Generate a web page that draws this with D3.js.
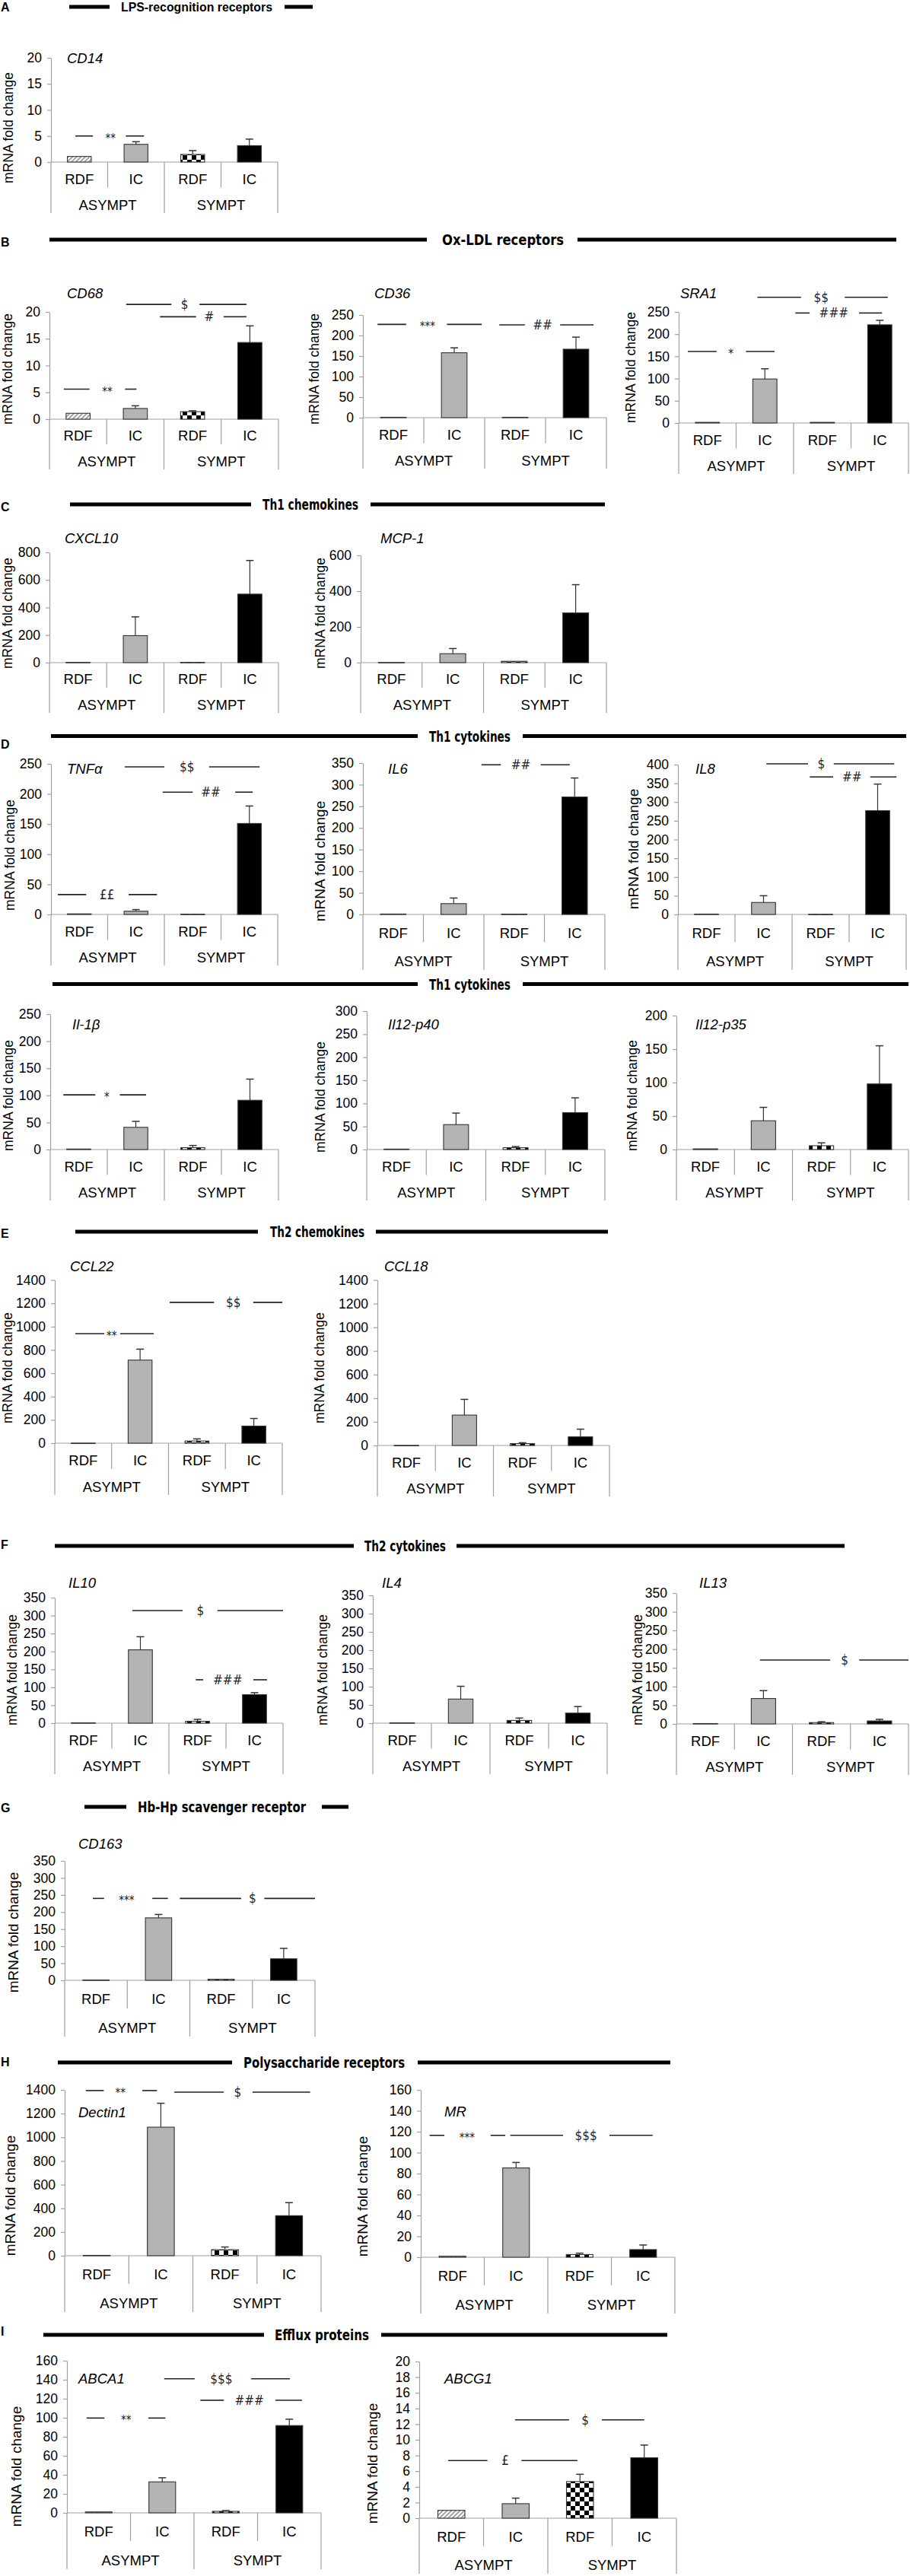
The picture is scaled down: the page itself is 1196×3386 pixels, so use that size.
<!DOCTYPE html>
<html><head><meta charset="utf-8">
<script src="https://cdn.jsdelivr.net/npm/d3@7"></script>
<style>body{margin:0;background:#fff}svg{display:block}</style>
</head><body>
<svg id="c" width="1196" height="3386"></svg>
<script>
// ---------------- DATA ----------------
const genes = ["CD14","CD68","CD36","SRA1","CXCL10","MCP-1","TNFα","IL6","IL8","Il-1β","Il12-p40","Il12-p35",
  "CCL22","CCL18","IL10","IL4","IL13","CD163","Dectin1","MR","ABCA1","ABCG1"];
const conditions = ["RDF","IC","RDF","IC"];
const groups = ["ASYMPT","SYMPT"];
// mean mRNA fold change per bar
const rdfAsympt = [1.07,1.1,1,1.5,2,1,1,1,1,1,1,1,1,1,1,1,1,1,3,1,1,1.0];
const icAsympt  = [3.4,2.0,158,99,196,50,5.4,25,32,41,54,43,713,257,204.5,66,68,183,1085,85.4,32.6,1.85];
const rdfSympt  = [1.46,1.4,1,1.5,2,7.6,0.5,0.8,0.5,3.5,4,5.7,18.6,16,5.3,7.5,3.6,3,50.6,2.6,1.6,4.67];
const icSympt   = [3.15,14.3,166.7,221,497,278,151,271.5,277,91,80,98,147,73,79.5,27.6,8,63,338,7.3,91.8,7.71];
// SEM (upper whisker length)
const semIcAsympt  = [0.5,0.5,12,23,136,29,2.7,13,18,11,25,20,94,133,36.5,35,21,10,202,5.2,4.3,0.71];
const semRdfSympt  = [0.74,0.17,0,0.5,0,2.4,0,0,0,4,2.5,4.3,18.4,7,5.3,6.5,2.2,1,23,1.3,0.8,0.93];
const semIcSympt   = [1.25,3.1,29.3,10,244,158,29,44,71,39,32,57,65,65,5.5,17.9,4.3,30.6,110,4.4,6.7,1.62];
// y-axis tick labels: max and step
const yMax  = [20,20,250,250,800,600,250,350,400,250,300,200,1400,1400,350,350,350,350,1400,160,160,20];
const yStep = [5,5,50,50,200,200,50,50,50,50,50,50,200,200,50,50,50,50,200,20,20,2];
// significance annotations: panel, line1 [a,b], line2 [c,d] and label position in bar-slot units (0..4), value, label
const sigPanel = [0,1,1,1,2,2,3,3,3,6,6,6,7,8,8,9,12,12,14,14,16,17,17,18,18,19,19,20,20,20,21,21];
const sigValue = [5.0,5.6,21.4,19.1,227,226,161,283,247.6,33,245,203,346,402,367,101,940,1208,314,121,171,240,240,1394,1381,116.5,116.5,99.7,141,118.4,7.35,12.55];
const sigLabel = ["**","**","$","#","***","##","*","$$","###","££","$$","##","##","$","##","*","**","$$","$","###","$","***","$","**","$","***","$$$","**","$$$","###","£","$"];
const sigSpan = [
 [0.43,0.74,1.32,1.64,1.05],
 [0.25,0.70,1.32,1.52,1.01],[1.34,2.13,2.62,3.44,2.36],[1.93,2.56,3.04,3.44,2.79],
 [0.24,0.71,1.38,1.95,1.06],[2.24,2.66,3.24,3.79,2.95],
 [0.16,0.66,1.17,1.67,0.91],[1.37,2.13,2.89,3.64,2.48],[2.03,2.28,3.14,3.54,2.70],
 [0.12,0.62,1.37,1.87,0.99],[1.30,2.0,2.79,3.68,2.40],[1.97,2.50,3.25,3.56,2.82],
 [1.96,2.28,2.94,3.42,2.61],
 [1.55,2.28,2.73,3.79,2.51],[2.31,2.72,3.37,3.83,3.05],
 [0.23,0.79,1.22,1.68,0.99],
 [0.36,0.87,1.15,1.74,1.0],[2.02,2.80,3.49,4.0,3.14],
 [1.36,2.24,2.85,4.0,2.55],[2.47,2.60,3.48,3.72,3.03],
 [1.44,2.65,3.15,4.0,2.90],
 [0.45,0.63,1.40,1.65,0.99],[1.84,2.82,3.19,4.0,3.0],
 [0.33,0.61,1.21,1.44,0.87],[1.71,2.48,2.93,3.83,2.70],
 [0.14,0.37,1.10,1.33,0.73],[1.41,2.24,2.97,3.65,2.60],
 [0.31,0.59,1.28,1.55,0.93],[1.53,2.01,2.90,3.51,2.43],[2.10,2.47,3.28,3.70,2.87],
 [0.45,1.06,1.59,2.46,1.34],[1.49,2.33,2.84,3.50,2.58]
];
const sectionLetters = ["A","B","C","D","","E","F","G","H","I"];
const sectionTitles = ["LPS-recognition receptors","Ox-LDL receptors","Th1 chemokines","Th1 cytokines","Th1 cytokines",
  "Th2 chemokines","Th2 cytokines","Hb-Hp scavenger receptor","Polysaccharide receptors","Efflux proteins"];

// ---------------- LAYOUT ----------------
// x0,x1,yTop,y0,catH,labelX,labelY,titleX,titleY
const layout = [
 [67,365,76,213,67,11,168,88,76],
 [65,366,410,551,66,10,485,88,385],
 [477,797,414,549,67,413,485,492,385],
 [892,1194,410,556,67,829,483,894,385],
 [65,366,726,871,66,10,806,85,707],
 [474,797,730,871,66,421,806,500,707],
 [67,365,1004,1202,67,13,1124,88,1010],
 [477,795,1003,1202,73,420,1132,510,1010],
 [891,1191,1005,1202,73,832,1116,914,1010],
 [66,366,1333,1511,67,11,1440,95,1346],
 [482,795,1329,1511,67,421,1442,510,1346],
 [889,1194,1335,1511,67,831,1440,914,1346],
 [72,371,1682.5,1897,68,10,1798,92,1664],
 [496,801,1682.5,1900,67,420,1798,505,1664],
 [72,372,2100,2265,67,16,2195,90,2080],
 [490,798,2097,2265,67,424,2195,502,2080],
 [889,1194,2094,2266,67,838,2195,919,2080],
 [85,414,2446,2603,74,17,2540,103,2423],
 [85,422,2747,2965,74,13,2886,103,2776],
 [553,887,2747,2967,74,476,2887,584,2775],
 [88,422,3103,3303,74,21,3242,103,3126],
 [551,889,3104,3310,73,489,3238,584,3126]
];
// section headers: line y, bar segments, text x range, letter y
const headers = [
 [9,[[91,144],[374,411]],[159,358],9],
 [315,[[65,561],[759,1178]],[581,741],318],
 [663,[[92,330],[487,795]],[345,471],666],
 [967.5,[[67,549],[687,1191]],[564,671],978],
 [1293.6,[[69,549],[687,1194]],[564,671],0],
 [1619,[[99,339],[494,799]],[355,479],1621],
 [2032,[[72,465],[600,1110]],[479,586],2030],
 [2375,[[111,166],[423,458]],[181,402],2376],
 [2711,[[76,305],[549,881]],[320,532],2710],
 [3069,[[57,347],[501,877]],[361,485],3064]
];

const FONT = "'Liberation Sans', Arial, sans-serif";
const NARROW = "'Liberation Sans Narrow', 'DejaVu Sans Condensed', Arial, sans-serif";
const AXIS = "#a0a0a0";
const svg = d3.select("#c");
const defs = svg.append("defs");
const hatch = defs.append("pattern").attr("id","hatch").attr("patternUnits","userSpaceOnUse")
  .attr("width",4).attr("height",4).attr("patternTransform","rotate(45)");
hatch.append("rect").attr("width",4).attr("height",4).attr("fill","#fff");
hatch.append("line").attr("x1",1).attr("y1",0).attr("x2",1).attr("y2",4).attr("stroke","#8c8c8c").attr("stroke-width",1.6);
const chk = defs.append("pattern").attr("id","checker").attr("patternUnits","userSpaceOnUse")
  .attr("width",12).attr("height",12);
chk.append("rect").attr("width",12).attr("height",12).attr("fill","#fff");
chk.append("rect").attr("width",6).attr("height",6).attr("fill","#000");
chk.append("rect").attr("x",6).attr("y",6).attr("width",6).attr("height",6).attr("fill","#000");
const fills = ["url(#hatch)","#b3b3b3","url(#checker)","#000"];

// headers
headers.forEach((h,i)=>{
  const g = svg.append("g");
  h[1].forEach(s=>g.append("line").attr("x1",s[0]).attr("x2",s[1]).attr("y1",h[0]).attr("y2",h[0])
     .attr("stroke","#000").attr("stroke-width",5));
  g.append("text").attr("x",h[2][0]).attr("y",h[0]).attr("dominant-baseline","central")
   .attr("textLength",h[2][1]-h[2][0]).attr("lengthAdjust","spacingAndGlyphs")
   .attr("font-family", i===0?FONT:NARROW).attr("font-weight","bold").attr("font-size",i===0?17:19)
   .text(sectionTitles[i]);
  if(sectionLetters[i]) g.append("text").attr("x",1).attr("y",h[3]).attr("dominant-baseline","central")
   .attr("font-family",FONT).attr("font-weight","bold").attr("font-size",16).text(sectionLetters[i]);
});

function drawPanel(i){
  const [x0,x1,yTop,y0,catH,lx,ly,tx,ty] = layout[i];
  const g = svg.append("g");
  const vals = [rdfAsympt[i],icAsympt[i],rdfSympt[i],icSympt[i]];
  const sems = [0,semIcAsympt[i],semRdfSympt[i],semIcSympt[i]];
  const x = d3.scaleBand().domain([0,1,2,3]).range([x0,x1]).paddingInner(0.58).paddingOuter(0.29);
  const xg = d3.scaleBand().domain([0,1]).range([x0,x1]);
  const u = d3.scaleLinear().domain([0,4]).range([x0,x1]);
  const y = d3.scaleLinear().domain([0,yMax[i]]).range([y0,yTop]);
  // y axis
  const ya = g.append("g").attr("transform",`translate(${x0},0)`)
    .call(d3.axisLeft(y).tickValues(d3.range(0,yMax[i]+yStep[i]/2,yStep[i])).tickFormat(d3.format("d"))
      .tickSize(5).tickSizeOuter(0).tickPadding(7));
  ya.selectAll("path,line").attr("stroke",AXIS).attr("stroke-width",1.2);
  ya.selectAll("text").attr("font-family",FONT).attr("font-size",17.5).attr("fill","#000");
  // category axis frame
  const fr = g.append("g").attr("stroke",AXIS).attr("stroke-width",1.2);
  fr.append("line").attr("x1",x0).attr("x2",x1).attr("y1",y0).attr("y2",y0);
  [0,2,4].forEach(k=>fr.append("line").attr("x1",u(k)).attr("x2",u(k)).attr("y1",y0).attr("y2",y0+catH));
  [1,3].forEach(k=>fr.append("line").attr("x1",u(k)).attr("x2",u(k)).attr("y1",y0).attr("y2",y0+catH*0.5));
  // condition labels
  const ca = g.append("g").attr("transform",`translate(0,${y0+catH*0.33})`)
    .call(d3.axisBottom(x).tickSize(0).tickPadding(0).tickFormat(k=>conditions[k]));
  ca.select(".domain").remove();
  ca.selectAll("text").attr("font-family",FONT).attr("font-size",18.5).attr("fill","#000").attr("dy","0.35em");
  const ga = g.append("g").attr("transform",`translate(0,${y0+catH*0.84})`)
    .call(d3.axisBottom(xg).tickSize(0).tickPadding(0).tickFormat(k=>groups[k]));
  ga.select(".domain").remove();
  ga.selectAll("text").attr("font-family",FONT).attr("font-size",18.5).attr("fill","#000").attr("dy","0.35em");
  // bars
  g.selectAll("rect.bar").data(vals).enter().append("rect").attr("class","bar")
    .attr("x",(d,k)=>x(k)).attr("width",x.bandwidth())
    .attr("y",d=>y(d)).attr("height",d=>Math.max(0.6,y0-y(d)))
    .attr("fill",(d,k)=>fills[k]).attr("stroke","#333").attr("stroke-width",1.1);
  // error bars
  vals.forEach((v,k)=>{
    if(sems[k]<=0) return;
    const cx = x(k)+x.bandwidth()/2;
    const top = y(v+sems[k]);
    if(y(v)-top < 0.8) return;
    g.append("line").attr("x1",cx).attr("x2",cx).attr("y1",y(v)).attr("y2",top).attr("stroke","#333").attr("stroke-width",1.2);
    g.append("line").attr("x1",cx-5).attr("x2",cx+5).attr("y1",top).attr("y2",top).attr("stroke","#333").attr("stroke-width",1.5);
  });
  // y label
  g.append("text").attr("transform",`translate(${lx},${ly}) rotate(-90)`).attr("text-anchor","middle")
    .attr("dominant-baseline","central").attr("font-family",FONT).attr("font-size",catH>70?19:17.5)
    .attr("fill","#000").text("mRNA fold change");
  // gene title
  g.append("text").attr("x",tx).attr("y",ty).attr("dominant-baseline","central")
    .attr("font-family",FONT).attr("font-style","italic").attr("font-size",18.5).text(genes[i]);
  // significance
  sigPanel.forEach((p,j)=>{
    if(p!==i) return;
    const s = sigSpan[j], yy = y(sigValue[j]);
    [[s[0],s[1]],[s[2],s[3]]].forEach(seg=>g.append("line").attr("x1",u(seg[0])).attr("x2",u(seg[1]))
      .attr("y1",yy).attr("y2",yy).attr("stroke","#222").attr("stroke-width",1.6));
    const lab = sigLabel[j];
    const star = lab.indexOf("*")>=0;
    g.append("text").attr("x",u(s[4])).attr("y",yy + (star?3:0)).attr("text-anchor","middle")
      .attr("dominant-baseline","central").attr("font-family",NARROW).attr("font-size",star?15:17)
      .attr("fill","#222").text(lab);
  });
}
genes.forEach((d,i)=>drawPanel(i));
</script>
</body></html>
